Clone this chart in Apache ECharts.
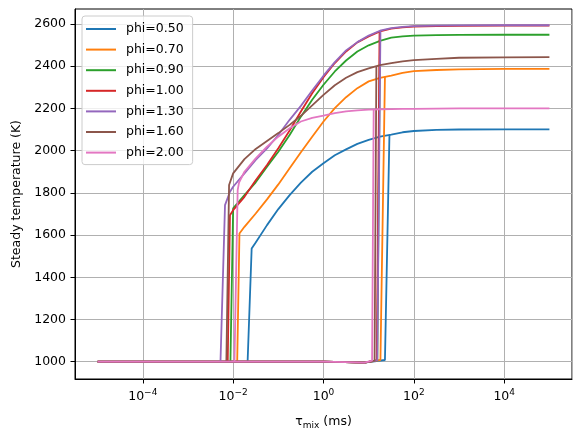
<!DOCTYPE html>
<html>
<head>
<meta charset="utf-8">
<script src="https://cdn.jsdelivr.net/npm/echarts@6/dist/echarts.min.js"></script>
<style>
html, body { margin: 0; padding: 0; background: #fff; }
#chart { width: 580px; height: 440px; }
</style>
</head>
<body>
<div id="chart"></div>
<script>
const chart = echarts.init(document.getElementById('chart'));

// Legend labels and line colours
const phiNames = ['phi=0.50', 'phi=0.70', 'phi=0.90', 'phi=1.00', 'phi=1.30', 'phi=1.60', 'phi=2.00'];
const phiColors = ['#1f77b4', '#ff7f0e', '#2ca02c', '#d62728', '#9467bd', '#8c564b', '#e377c2'];

// Unburnt branch, same for every mixture (tau in ms, T in K)
const coldTau = [1e-5, 1, 3, 8];
const coldT = [1000, 1000, 998, 996];

// Ignition jump at the end of the upward sweep: [last cold point, first burning point]
const igniteTau = [[22.9, 28.8], [18.2, 22.9], [15.5, 17.8], [15.1, 17.4], [15.5, 18.2], [13.5, 14.8], [11.9, 12.9]];
const igniteT = [[1008, 2074], [1008, 2350], [1006, 2520], [1006, 2562], [1006, 2568], [1005, 2400], [1005, 2195]];

// Extinction: [first cold point, last burning point] and the burning temperature there
const extinctTau = [[0.0209, 0.0257], [0.0123, 0.0138], [0.00871, 0.01], [0.00759, 0.00851], [0.00525, 0.00661], [0.00708, 0.00813], [0.0107, 0.0126]];
const extinctT = [1536, 1607, 1726, 1694, 1742, 1837, 1813];

// Extra knee point just after extinction (null when not needed)
const kneeTau = [null, null, null, null, 0.00851, null, 0.0135];
const kneeT = [null, null, null, null, 1805, null, 1848];

// Burning branch on a common tau grid
const hotTau = [0.01, 0.0178, 0.0316, 0.0562, 0.1, 0.178, 0.316, 0.562, 1, 1.78, 3.16, 5.62, 10, 17.8, 31.6, 56.2, 100, 316, 1000, 1e4, 1e5];
const hot050 = [null, null, 1565, 1647, 1723, 1789, 1848, 1900, 1940, 1978, 2006, 2032, 2051, 2066, 2076, 2087, 2093, 2098, 2100, 2101, 2101];
const hot070 = [null, 1639, 1702, 1769, 1840, 1916, 1992, 2066, 2138, 2201, 2253, 2296, 2328, 2345, 2355, 2368, 2377, 2382, 2385, 2387, 2387];
const hot090 = [1726, 1789, 1850, 1924, 1995, 2074, 2161, 2241, 2312, 2375, 2427, 2470, 2499, 2520, 2535, 2541, 2545, 2547, 2548, 2549, 2549];
const hot100 = [1718, 1781, 1860, 1932, 2011, 2095, 2185, 2272, 2348, 2415, 2470, 2513, 2541, 2565, 2578, 2584, 2588, 2590, 2591, 2592, 2592];
const hot130 = [1829, 1892, 1956, 2011, 2074, 2146, 2212, 2285, 2355, 2419, 2475, 2514, 2545, 2568, 2580, 2586, 2590, 2592, 2593, 2594, 2594];
const hot160 = [1892, 1960, 2008, 2046, 2083, 2122, 2165, 2214, 2264, 2310, 2345, 2372, 2390, 2405, 2415, 2423, 2429, 2435, 2440, 2442, 2443];
const hot200 = [null, 1900, 1963, 2019, 2066, 2106, 2138, 2155, 2166, 2178, 2186, 2191, 2194, 2196, 2197, 2198, 2198, 2199, 2200, 2200, 2200];
const hotBranches = [hot050, hot070, hot090, hot100, hot130, hot160, hot200];

// y tick values
const tempTicks = [1000, 1200, 1400, 1600, 1800, 2000, 2200, 2400, 2600];

const baseFont = 'DejaVu Sans';

// Upward sweep: cold branch until ignition, then the jump
function sweepData(i) {
    const pts = coldTau.map((t, k) => [t, coldT[k]]);
    pts.push([igniteTau[i][0], igniteT[i][0]]);
    pts.push([igniteTau[i][1], igniteT[i][1]]);
    return pts;
}

// Burning branch from extinction to the longest residence time
function burningData(i) {
    const pts = [[extinctTau[i][0], 1000], [extinctTau[i][1], extinctT[i]]];
    let start = extinctTau[i][1];
    if (kneeTau[i] !== null) {
        pts.push([kneeTau[i], kneeT[i]]);
        start = kneeTau[i];
    }
    hotBranches[i].forEach((v, k) => {
        if (v !== null && hotTau[k] > start) pts.push([hotTau[k], v]);
    });
    return pts;
}

const series = [];
phiNames.forEach((name, i) => {
    [sweepData(i), burningData(i)].forEach(data => {
        series.push({
            name: name,
            type: 'line',
            data: data,
            showSymbol: false,
            symbol: 'none',
            lineStyle: { width: 1.8, color: phiColors[i] },
            itemStyle: { color: phiColors[i] },
            emphasis: { disabled: true }
        });
    });
});

function powerLabel(v) {
    const e = Math.round(Math.log10(v));
    const s = e < 0 ? '\u2212' + Math.abs(e) : String(e);
    return '{b|10}{s|' + s + '}';
}

const option = {
    animation: false,
    grid: {
        left: 75, right: 8, top: 9, bottom: 61,
        show: true, borderColor: '#000', borderWidth: 1
    },
    legend: {
        data: phiNames,
        orient: 'vertical',
        left: 82,
        top: 16,
        icon: 'rect',
        itemWidth: 30,
        itemHeight: 2,
        itemGap: 6.6,
        padding: [6, 9, 5, 4],
        backgroundColor: 'rgba(255,255,255,0.8)',
        borderColor: '#cccccc',
        borderWidth: 1,
        borderRadius: 3,
        textStyle: { fontFamily: baseFont, fontSize: 12.5, color: '#000', lineHeight: 14, padding: [0, 0, 0, 5] }
    },
    xAxis: {
        type: 'log',
        logBase: 100,
        min: Math.pow(10, -5.5),
        max: Math.pow(10, 5.5),
        name: '{t|\u03c4}{sub|mix}{t| (ms)}',
        nameLocation: 'middle',
        nameGap: 35,
        nameTextStyle: {
            rich: {
                t: { fontFamily: baseFont, fontSize: 12.5, color: '#000', lineHeight: 16 },
                sub: { fontFamily: baseFont, fontSize: 9, color: '#000', lineHeight: 10, verticalAlign: 'bottom' }
            }
        },
        axisLine: { lineStyle: { color: '#000', width: 1 } },
        axisTick: { length: 4.5, lineStyle: { color: '#000' } },
        minorTick: { show: false },
        splitLine: { show: true, lineStyle: { color: '#b0b0b0', width: 1 } },
        axisLabel: {
            margin: 9,
            showMinLabel: false,
            showMaxLabel: false,
            formatter: powerLabel,
            rich: {
                b: { fontFamily: baseFont, fontSize: 12.5, color: '#000', lineHeight: 18 },
                s: { fontFamily: baseFont, fontSize: 9, color: '#000', lineHeight: 10, verticalAlign: 'top' }
            }
        }
    },
    yAxis: {
        type: 'value',
        min: 918,
        max: 2671,
        splitNumber: 8,
        name: 'Steady temperature (K)',
        nameLocation: 'middle',
        nameGap: 46,
        nameTextStyle: { fontFamily: baseFont, fontSize: 12.5, color: '#000' },
        axisLine: { show: true, lineStyle: { color: '#000', width: 1 } },
        axisTick: { show: true, length: 4.5, lineStyle: { color: '#000' }, customValues: tempTicks },
        splitLine: { show: true, lineStyle: { color: '#b0b0b0', width: 1 } },
        axisLabel: {
            margin: 9,
            fontFamily: baseFont, fontSize: 12.5, color: '#000',
            customValues: tempTicks,
            formatter: v => String(v)
        }
    },
    series: series
};

chart.setOption(option);
</script>
</body>
</html>
